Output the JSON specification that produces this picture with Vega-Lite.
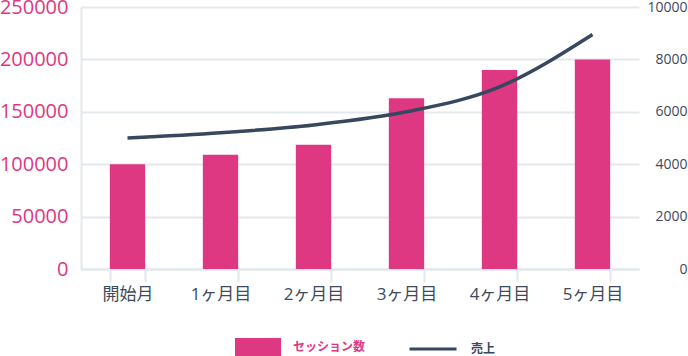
{
  "$schema": "https://vega.github.io/schema/vega-lite/v6.json",
  "autosize": "none",
  "width": 558,
  "height": 262,
  "padding": {"left": 81, "top": 7, "right": 49, "bottom": 87},
  "config": {
    "view": {"stroke": null},
    "font": "Open Sans, Noto Sans CJK JP",
    "axis": {"labelFont": "Open Sans, Noto Sans CJK JP", "gridColor": "#e3e8ec", "gridWidth": 2, "domainColor": "#e3e8ec", "domainWidth": 2, "tickColor": "#e3e8ec", "tickWidth": 2}
  },
  "data": {
    "values": [
      {"month": "開始月", "sessions": 100000, "sales": 5000},
      {"month": "1ヶ月目", "sessions": 109000, "sales": 5200},
      {"month": "2ヶ月目", "sessions": 118500, "sales": 5500},
      {"month": "3ヶ月目", "sessions": 163000, "sales": 6000},
      {"month": "4ヶ月目", "sessions": 190000, "sales": 6950},
      {"month": "5ヶ月目", "sessions": 200000, "sales": 8950}
    ]
  },
  "encoding": {
    "x": {
      "field": "month", "type": "ordinal", "sort": null,
      "scale": {"paddingInner": 0.62, "paddingOuter": 0.31},
      "axis": {"title": null, "labelAngle": 0, "tickBand": "extent", "tickSize": 13, "labelPadding": 4, "labelFontSize": 17, "labelColor": "#3d4a5c", "domain": true, "grid": false}
    }
  },
  "layer": [
    {
      "mark": {"type": "bar"},
      "encoding": {
        "y": {
          "field": "sessions", "type": "quantitative",
          "scale": {"domain": [0, 250000], "nice": false},
          "axis": {"title": null, "orient": "left", "values": [0, 50000, 100000, 150000, 200000, 250000], "format": "d", "ticks": false, "labelPadding": 13, "labelFontSize": 20, "labelColor": "#e0387f", "domain": true, "grid": true}
        },
        "fill": {
          "datum": "セッション数",
          "scale": {"range": ["#df3882"]},
          "legend": {"title": null, "orient": "none", "legendX": 154, "legendY": 317, "symbolType": "M-1,-0.39H1V0.39H-1Z", "symbolSize": 2116, "symbolStrokeWidth": 0, "labelOffset": 12, "labelFontSize": 12, "labelFontWeight": "bold", "labelColor": "#df3882", "padding": 0}
        }
      }
    },
    {
      "mark": {"type": "line", "interpolate": "monotone", "strokeWidth": 3.5},
      "encoding": {
        "y": {
          "field": "sales", "type": "quantitative",
          "scale": {"domain": [0, 10000], "nice": false},
          "axis": {"title": null, "orient": "right", "values": [0, 2000, 4000, 6000, 8000, 10000], "format": "d", "ticks": false, "domain": false, "grid": false, "labelAlign": "right", "labelPadding": 48, "labelFontSize": 14, "labelColor": "#3d4a5c"}
        },
        "stroke": {
          "datum": "売上",
          "scale": {"range": ["#37475d"]},
          "legend": {"title": null, "orient": "none", "legendX": 327, "legendY": 317, "symbolType": "stroke", "symbolSize": 2209, "symbolStrokeWidth": 3, "labelOffset": 13, "labelFontSize": 12, "labelFontWeight": "bold", "labelColor": "#37475d", "padding": 0}
        }
      }
    }
  ],
  "resolve": {"scale": {"y": "independent"}}
}
